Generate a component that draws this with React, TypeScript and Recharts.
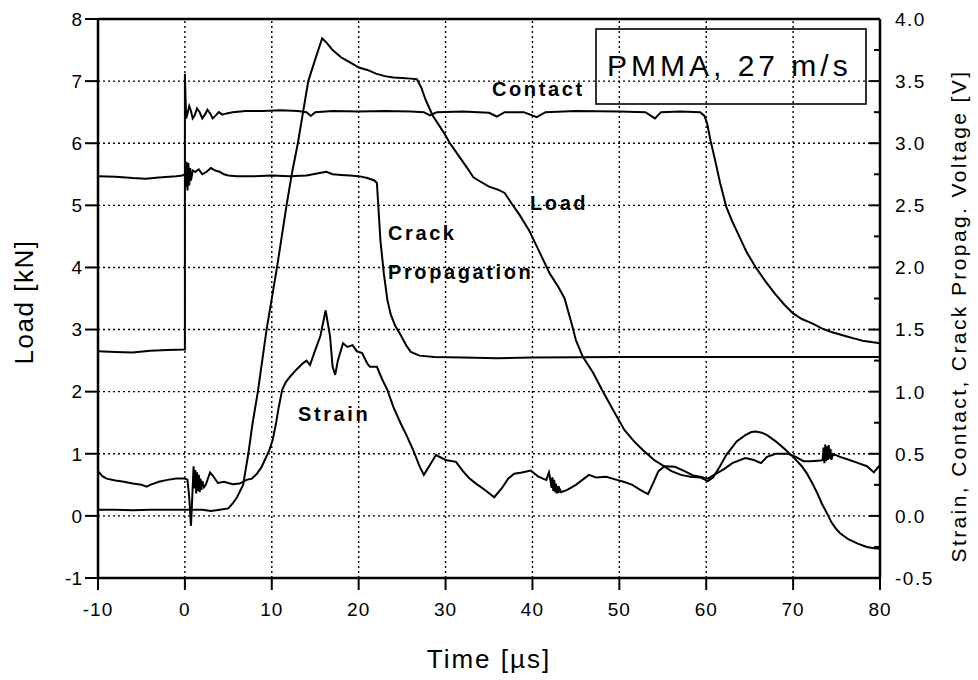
import React from 'react';
import { LineChart, Line, XAxis, YAxis, ReferenceLine } from 'recharts';

// time [µs] vs. value; load in kN, other traces in V
const LOAD: [number, number][] = [
  [-10, 0.1], [-8, 0.1], [-6, 0.09], [-4, 0.1], [-2, 0.1], [0, 0.1], [1, 0.1], [2, 0.1], [3, 0.08], [4, 0.1],
  [5, 0.12], [5.5, 0.2], [6, 0.3], [6.7, 0.5], [7.3, 1.0], [7.8, 1.5], [8.4, 2.0], [9.4, 3.0], [10.6, 4.0],
  [11.7, 5.0], [12.3, 5.5], [13.0, 6.0], [13.6, 6.5], [14.2, 7.0], [15.0, 7.35], [15.8, 7.69], [16.3, 7.62],
  [17, 7.5], [17.5, 7.44], [18, 7.38], [18.5, 7.34], [19, 7.3], [19.5, 7.26], [20, 7.22], [21, 7.18], [22, 7.12],
  [23, 7.08], [24, 7.06], [25, 7.05], [26, 7.04], [26.7, 7.03], [27.2, 6.9], [27.7, 6.7], [28.5, 6.45],
  [29.2, 6.3], [29.9, 6.15], [30.5, 6.0], [31.5, 5.8], [32.5, 5.6], [33.2, 5.45], [33.8, 5.4], [35, 5.3],
  [36.1, 5.25], [36.8, 5.2], [37.6, 5.03], [38.5, 4.85], [39.6, 4.6], [40.8, 4.25], [42, 3.9], [43, 3.68],
  [43.7, 3.5], [44.5, 3.1], [45, 2.83], [45.8, 2.56], [47, 2.3], [48, 2.03], [49.3, 1.7], [50.6, 1.38],
  [51.7, 1.2], [52.7, 1.06], [54, 0.9], [54.9, 0.82], [56, 0.72], [57.1, 0.66], [58.2, 0.63], [59.3, 0.62],
  [60.2, 0.56], [60.8, 0.62], [61.5, 0.78], [62.3, 0.98], [63.5, 1.2], [64.5, 1.3], [65.2, 1.35], [65.7, 1.36],
  [66.4, 1.34], [67, 1.3], [68, 1.2], [69, 1.08], [70, 0.95], [71, 0.8], [71.6, 0.68], [72.2, 0.53],
  [72.8, 0.36], [73.3, 0.2], [73.9, 0.04], [74.4, -0.1], [74.9, -0.2], [75.4, -0.28], [76.4, -0.38],
  [77.5, -0.45], [78.5, -0.5], [79.3, -0.52], [80, -0.53],
];

const CONTACT: [number, number][] = [
  [-10, 1.325], [-8, 1.32], [-6, 1.315], [-4, 1.33], [-2, 1.335], [-0.1, 1.34], [0, 1.34], [0, 3.56],
  [0.08, 3.35], [0.15, 3.2], [0.3, 3.24], [0.5, 3.3], [0.7, 3.26], [0.9, 3.2], [1.1, 3.22], [1.4, 3.28],
  [1.7, 3.25], [2.0, 3.2], [2.3, 3.23], [2.6, 3.27], [2.9, 3.24], [3.2, 3.2], [3.5, 3.22], [3.9, 3.25],
  [4.3, 3.23], [4.8, 3.24], [5.5, 3.25], [7, 3.26], [9, 3.26], [11, 3.265], [13, 3.26],
  [14.0, 3.25], [14.5, 3.22], [15, 3.25], [17, 3.26], [20, 3.255], [23, 3.26], [26, 3.255], [27.5, 3.25],
  [28.2, 3.225], [29, 3.25], [32, 3.255], [35, 3.245], [35.9, 3.215], [36.8, 3.25], [39, 3.25], [40.5, 3.21],
  [41.5, 3.25], [45, 3.26], [50, 3.255], [53, 3.25], [54.1, 3.2], [54.8, 3.25], [57, 3.255], [59.3, 3.25],
  [59.8, 3.22], [60.1, 3.16], [60.5, 3.02], [61, 2.87], [61.6, 2.68], [62.3, 2.49], [63, 2.37], [63.6, 2.28],
  [64.6, 2.13], [65.7, 2.0], [66.8, 1.89], [67.9, 1.79], [69, 1.7], [70, 1.63], [71, 1.585], [72.2, 1.55],
  [73.3, 1.51], [74.4, 1.48], [75.4, 1.46], [76.4, 1.44], [77.2, 1.425], [78, 1.41], [79, 1.4], [80, 1.39],
];

const CRACK: [number, number][] = [
  [-10, 2.735], [-8, 2.73], [-6, 2.72], [-4.5, 2.715], [-3, 2.725], [-1, 2.735], [-0.3, 2.74], [0, 2.75],
  [0.1, 2.65], [0.2, 2.85], [0.3, 2.62], [0.4, 2.84], [0.5, 2.66], [0.6, 2.8], [0.7, 2.7], [0.9, 2.78],
  [1.2, 2.77], [1.6, 2.79], [2, 2.75], [2.5, 2.77], [3, 2.8], [3.5, 2.78], [4, 2.77], [4.5, 2.75], [5, 2.74],
  [6, 2.735], [8, 2.735], [10, 2.74], [12, 2.735], [14, 2.74], [15.5, 2.76], [16.3, 2.77], [17, 2.75],
  [18, 2.745], [19, 2.74], [20, 2.735], [21, 2.72], [21.8, 2.7], [22.1, 2.68], [22.3, 2.45], [22.5, 2.22],
  [22.9, 1.95], [23.3, 1.74], [23.7, 1.62], [24.2, 1.53], [24.8, 1.46], [25.5, 1.37], [26, 1.32], [27, 1.29],
  [28.7, 1.28], [32, 1.275], [36, 1.27], [40, 1.275], [50, 1.28], [60, 1.28], [70, 1.28], [80, 1.28],
];

const STRAIN: [number, number][] = [
  [-10, 0.36], [-9.5, 0.32], [-9, 0.3], [-8, 0.285], [-7, 0.275], [-6, 0.26], [-5, 0.25], [-4.4, 0.235],
  [-4, 0.25], [-3, 0.275], [-2, 0.29], [-1, 0.3], [0, 0.3], [0.3, 0.29], [0.5, 0.15], [0.7, -0.08],
  [0.85, 0.15], [1.0, 0.4], [1.1, 0.22], [1.2, 0.37], [1.3, 0.18], [1.4, 0.35], [1.5, 0.2], [1.6, 0.33],
  [1.7, 0.19], [1.8, 0.3], [1.9, 0.21], [2.0, 0.28], [2.2, 0.23], [2.4, 0.25], [2.9, 0.35], [3.2, 0.325],
  [3.8, 0.265], [4.5, 0.275], [5.5, 0.255], [6.3, 0.26], [7.1, 0.29], [7.7, 0.3], [8.3, 0.34], [8.8, 0.39],
  [9.2, 0.45], [9.7, 0.525], [10.1, 0.61], [10.5, 0.75], [10.8, 0.875], [11.2, 1.015], [11.6, 1.075],
  [12.1, 1.12], [12.8, 1.175], [13.6, 1.23], [14.0, 1.25], [14.4, 1.215], [15.0, 1.335], [15.6, 1.45],
  [16.2, 1.655], [16.7, 1.45], [17.0, 1.2], [17.3, 1.135], [17.6, 1.25], [18.2, 1.39], [18.7, 1.36],
  [19.3, 1.375], [19.8, 1.325], [20.4, 1.31], [21.0, 1.225], [21.3, 1.2], [22.1, 1.2], [22.7, 1.1],
  [23.3, 1.015], [24.0, 0.875], [24.8, 0.75], [25.5, 0.65], [26.3, 0.525], [27.0, 0.4], [27.5, 0.33],
  [28.2, 0.41], [28.9, 0.49], [30, 0.45], [31.2, 0.435], [32, 0.36], [32.7, 0.305], [33.5, 0.26],
  [34.5, 0.21], [35.6, 0.15], [36.5, 0.225], [37.2, 0.3], [37.9, 0.34], [38.8, 0.35], [39.8, 0.365],
  [40.6, 0.32], [41.2, 0.3], [41.6, 0.29], [41.9, 0.35], [42.1, 0.275], [42.2, 0.225], [42.3, 0.31],
  [42.4, 0.2], [42.5, 0.29], [42.6, 0.19], [42.7, 0.26], [42.8, 0.18], [42.9, 0.24], [43.0, 0.185],
  [43.1, 0.22], [43.3, 0.19], [44, 0.21], [45, 0.25], [46.5, 0.33], [47.3, 0.31], [48.5, 0.315],
  [49.7, 0.29], [50.5, 0.275], [51.5, 0.25], [52.4, 0.21], [53.3, 0.175], [53.8, 0.25], [54.5, 0.36],
  [55.2, 0.4], [56.4, 0.395], [57.5, 0.36], [58.5, 0.325], [59.3, 0.315], [60.2, 0.3], [61, 0.335],
  [62, 0.375], [63, 0.425], [64.5, 0.465], [65.5, 0.45], [66.3, 0.425], [67, 0.475], [68, 0.5], [69.4, 0.5],
  [70.3, 0.475], [71.2, 0.44], [72, 0.44], [73.2, 0.445], [73.4, 0.45], [73.5, 0.55], [73.6, 0.425],
  [73.7, 0.575], [73.8, 0.44], [73.9, 0.56], [74.0, 0.45], [74.1, 0.57], [74.2, 0.46], [74.3, 0.54],
  [74.4, 0.45], [74.6, 0.5], [75.4, 0.475], [76.5, 0.45], [77.5, 0.425], [78.5, 0.4], [79.3, 0.35], [80, 0.41],
];

const X_TICKS = [-10, 0, 10, 20, 30, 40, 50, 60, 70, 80];
const LOAD_TICKS = [-1, 0, 1, 2, 3, 4, 5, 6, 7, 8];
const VOLT_TICKS = [-0.5, -0.25, 0, 0.25, 0.5, 0.75, 1, 1.25, 1.5, 1.75, 2, 2.25, 2.5, 2.75, 3, 3.25, 3.5, 3.75, 4];

const FONT = '"Liberation Sans", Arial, Helvetica, sans-serif';
const toRows = (pts: [number, number][]) => pts.map(([t, v]) => ({ t, v }));

// right axis: inward ticks, labels only on every 0.5 V
const VoltTick = (props: any) => {
  const { x, y, payload } = props;
  const val = payload.value as number;
  const major = Math.abs(val * 2 - Math.round(val * 2)) < 1e-6;
  const ax = x - 15;
  return (
    <g>
      <line x1={ax} x2={ax - (major ? 11 : 6)} y1={y} y2={y} stroke="#000" strokeWidth={2} />
      {major && (
        <text x={x} y={y} dy="0.36em" fontSize={19} fontFamily={FONT} letterSpacing={1.5} fill="#000">
          {val.toFixed(1)}
        </text>
      )}
    </g>
  );
};

const labelStyle = {
  fontSize: 20, fontFamily: FONT, fontWeight: 700, letterSpacing: 2.6, fill: '#000',
  stroke: '#fff', strokeWidth: 3, paintOrder: 'stroke' as const,
};

const gridProps = { stroke: '#000', strokeWidth: 1.4, strokeDasharray: '2 3' };

export default function App() {
  return (
    <div style={{ position: 'absolute', left: 0, top: 0, background: '#fff' }}>
      <LineChart width={978} height={680} margin={{ top: 19, right: 0, bottom: 0, left: 0 }}>
        <XAxis
          dataKey="t" type="number" domain={[-10, 80]} ticks={X_TICKS} interval={0} allowDataOverflow
          height={102} tickSize={12} tickMargin={13}
          axisLine={{ stroke: '#000', strokeWidth: 2.5 }} tickLine={{ stroke: '#000', strokeWidth: 2 }}
          tick={{ fill: '#000', fontSize: 19, fontFamily: FONT, letterSpacing: 1 }}
        />
        <YAxis
          yAxisId="left" type="number" domain={[-1, 8]} ticks={LOAD_TICKS} interval={0} allowDataOverflow
          width={98} tickSize={13} tickMargin={3}
          axisLine={{ stroke: '#000', strokeWidth: 2.5 }} tickLine={{ stroke: '#000', strokeWidth: 2 }}
          tick={{ fill: '#000', fontSize: 19, fontFamily: FONT }}
        />
        <YAxis
          yAxisId="right" orientation="right" type="number" domain={[-0.5, 4]} ticks={VOLT_TICKS} interval={0}
          allowDataOverflow width={98} tickSize={0} tickMargin={15}
          axisLine={{ stroke: '#000', strokeWidth: 2.5 }} tickLine={false} tick={<VoltTick />}
        />

        {/* dotted grid at the major ticks */}
        {X_TICKS.slice(1, -1).map((t) => (
          <ReferenceLine key={'gx' + t} yAxisId="left" x={t} {...gridProps} />
        ))}
        {LOAD_TICKS.slice(1, -1).map((v) => (
          <ReferenceLine key={'gy' + v} yAxisId="left" y={v} {...gridProps} />
        ))}
        <ReferenceLine yAxisId="left" y={8} stroke="#000" strokeWidth={2.5} />

        <Line yAxisId="left" data={toRows(LOAD)} dataKey="v" type="linear" stroke="#000" strokeWidth={2} dot={false} isAnimationActive={false} />
        <Line yAxisId="right" data={toRows(CONTACT)} dataKey="v" type="linear" stroke="#000" strokeWidth={2} dot={false} isAnimationActive={false} />
        <Line yAxisId="right" data={toRows(CRACK)} dataKey="v" type="linear" stroke="#000" strokeWidth={2} dot={false} isAnimationActive={false} />
        <Line yAxisId="right" data={toRows(STRAIN)} dataKey="v" type="linear" stroke="#000" strokeWidth={2} dot={false} isAnimationActive={false} />

        <text x={492} y={96} style={labelStyle}>Contact</text>
        <text x={530} y={210} style={labelStyle}>Load</text>
        <text x={388} y={240} style={labelStyle}>Crack</text>
        <text x={388} y={279} style={labelStyle}>Propagation</text>
        <text x={298} y={421} style={labelStyle}>Strain</text>

        <rect x={596} y={29} width={270} height={75} fill="#fff" stroke="#000" strokeWidth={1.6} />
        <text x={607} y={76} fontSize={30} fontFamily={FONT} letterSpacing={4} fill="#000">PMMA, 27 m/s</text>

        <text x={489} y={668} textAnchor="middle" fontSize={26} fontFamily={FONT} letterSpacing={2} fill="#000">Time [µs]</text>
        <text x={33} y={302} textAnchor="middle" transform="rotate(-90 33 302)" fontSize={26} fontFamily={FONT} letterSpacing={1.5} fill="#000">Load [kN]</text>
        <text x={966} y={316} textAnchor="middle" transform="rotate(-90 966 316)" fontSize={21} fontFamily={FONT} letterSpacing={2.4} fill="#000">Strain, Contact, Crack Propag. Voltage [V]</text>
      </LineChart>
    </div>
  );
}
